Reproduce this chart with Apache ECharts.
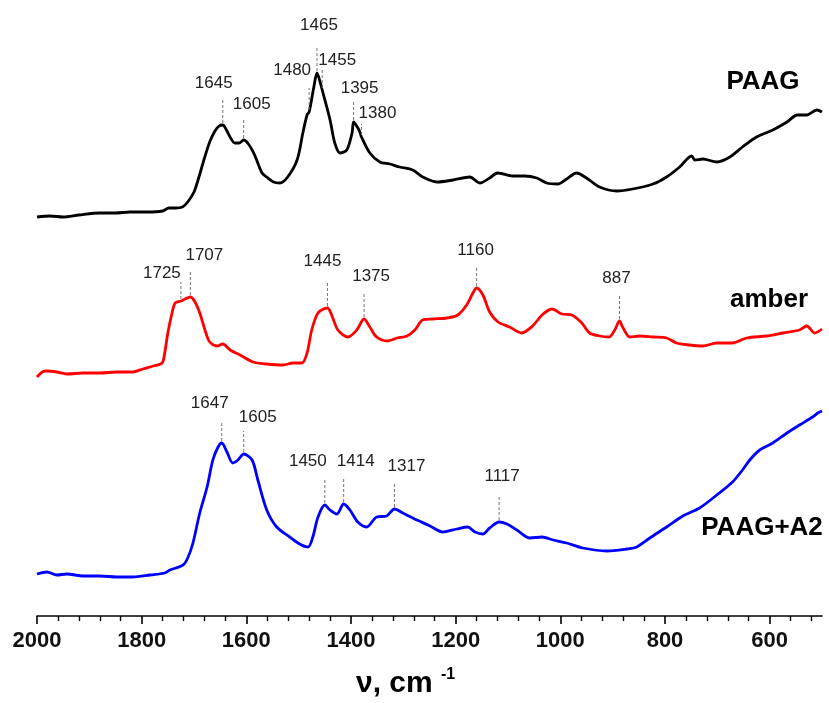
<!DOCTYPE html>
<html>
<head>
<meta charset="utf-8">
<script src="https://cdn.jsdelivr.net/npm/echarts@6.0.0/dist/echarts.min.js"></script>
<style>
  body { margin: 0; background: #fff; }
  #main { width: 829px; height: 703px; }
</style>
</head>
<body>
<div id="main"></div>
<script>
// wavenumbers (cm-1) and heights
var paagWn = [2000,1975,1950,1920,1880,1850,1822,1790,1760,1748,1735,1722,1712,1700,1690,1680,1670,1660,1652,1645,1638,1630,1622,1614,1605,1596,1585,1570,1561,1548,1536,1521,1503,1492,1484,1480,1471,1465,1459,1455,1440,1431,1421,1408,1398,1395,1388,1383,1380,1364,1345,1326,1307,1282,1263,1236,1205,1173,1154,1135,1120,1091,1068,1045,1026,1005,988,969,950,925,892,862,823,797,772,749,743,728,701,676,652,625,594,567,547,529,510,500];
var paagAbs = [399,400,399,401,403,403,404,404,405,408,408,409,414,424,440,458,474,485,490,491,486,478,473,473,476,472,462,443,439,434,433,439,456,483,501,504,529,543,534,526,496,473,463,466,483,494,489,484,479,463,454,452,449,446,439,434,436,439,433,438,443,440,440,438,433,432,437,443,438,429,425,427,432,439,449,460,456,457,454,459,469,479,486,494,501,501,506,504];

var amberWn = [2000,1990,1981,1962,1943,1912,1880,1847,1817,1798,1778,1761,1756,1750,1742,1736,1725,1717,1707,1698,1689,1679,1670,1656,1645,1631,1612,1587,1561,1530,1511,1494,1484,1475,1463,1445,1437,1425,1406,1389,1375,1364,1351,1330,1312,1293,1278,1263,1244,1217,1196,1179,1168,1160,1148,1135,1119,1097,1074,1053,1035,1016,997,978,959,944,925,907,896,887,881,867,848,823,797,778,753,728,701,671,644,606,575,543,529,514,500];
var amberAbs = [239,244,245,244,242,243,243,244,244,247,250,253,263,283,303,313,315,317,319,314,303,286,274,270,272,266,261,254,252,251,253,253,263,286,303,308,301,286,279,286,297,289,279,275,278,280,286,296,297,298,301,311,322,328,321,304,294,289,283,290,301,307,302,301,293,283,280,279,286,295,289,279,280,279,278,273,271,270,273,273,278,280,283,286,290,283,287];

var blendWn = [2000,1981,1962,1943,1912,1880,1847,1817,1784,1756,1746,1721,1712,1702,1689,1675,1664,1654,1647,1637,1626,1616,1605,1589,1578,1561,1542,1517,1498,1482,1473,1463,1450,1440,1427,1414,1402,1387,1370,1351,1332,1317,1301,1274,1249,1225,1198,1177,1163,1148,1135,1117,1102,1083,1058,1035,1014,988,957,911,873,854,829,797,766,734,701,671,652,638,619,594,567,543,518,508,500];
var blendAbs = [42,44,41,42,40,40,39,39,41,43,46,51,58,73,103,129,156,169,173,164,153,156,162,156,136,106,89,79,72,69,79,99,111,106,102,112,106,94,89,99,100,107,103,96,90,84,87,89,84,82,88,94,92,86,78,79,76,73,68,65,67,69,78,89,100,108,121,134,146,156,166,173,183,191,199,203,205];

// marked peaks
var paagPeaks = [1645, 1605, 1480, 1465, 1455, 1395, 1380];
var amberPeaks = [1725, 1707, 1445, 1375, 1160, 887];
var blendPeaks = [1647, 1605, 1450, 1414, 1317, 1117];

// axis tick labels
var tickValues = [2000, 1800, 1600, 1400, 1200, 1000, 800, 600];

// label layout: [dash length, text dx, text dy] in px
var paagTags = [[24,-9,16],[20,8,14],[22,-17,18],[25,2,21],[19,15,9],[18,6,14],[11,16,11]];
var amberTags = [[17,-19,9],[25,14,15],[24,-5,21],[23,7,18],[20,-1,16],[25,-3,16]];
var blendTags = [[20,-12,18],[21,14,14],[25,-17,17],[24,12,17],[24,12,17],[25,3,19]];

var minorTicks = [];
for (var t = 1960; t >= 520; t -= 40) {
  if (tickValues.indexOf(t) < 0) minorTicks.push(t);
}

function pairs(xs, ys) {
  return xs.map(function (x, i) { return [x, ys[i]]; });
}

function valueAt(xs, ys, x) {
  for (var i = 0; i < xs.length - 1; i++) {
    if (xs[i] >= x && x >= xs[i + 1]) {
      var k = (xs[i] - x) / (xs[i] - xs[i + 1]);
      return ys[i] + k * (ys[i + 1] - ys[i]);
    }
  }
  return ys[ys.length - 1];
}

function tagData(peaks, xs, ys, tags) {
  return peaks.map(function (p, i) {
    return [p, valueAt(xs, ys, p), tags[i][0], tags[i][1], tags[i][2]];
  });
}

var allTags = []
  .concat(tagData(paagPeaks, paagWn, paagAbs, paagTags))
  .concat(tagData(amberPeaks, amberWn, amberAbs, amberTags))
  .concat(tagData(blendPeaks, blendWn, blendAbs, blendTags));

var chart = echarts.init(document.getElementById('main'));

var font = '"Liberation Sans", Arial, sans-serif';

var option = {
  animation: false,
  backgroundColor: '#fff',
  grid: { left: 37, right: 7, top: 16, bottom: 87 },
  xAxis: [
    {
      type: 'value', min: 500, max: 2000, inverse: true, position: 'bottom',
      axisLine: { show: true, lineStyle: { color: '#000', width: 1.6 } },
      axisTick: { show: true, length: 8, customValues: tickValues, lineStyle: { color: '#000', width: 1.6 } },
      axisLabel: {
        customValues: tickValues, fontSize: 22, fontWeight: 'bold',
        fontFamily: font, color: '#111', margin: 14,
        formatter: function (v) { return String(v); }
      },
      splitLine: { show: false }
    },
    {
      type: 'value', min: 500, max: 2000, inverse: true, position: 'bottom',
      axisLine: { show: false },
      axisTick: { show: true, length: 5, customValues: minorTicks, lineStyle: { color: '#000', width: 1.4 } },
      axisLabel: { show: false },
      splitLine: { show: false }
    }
  ],
  yAxis: { type: 'value', min: 0, max: 600, show: false },
  series: [
    {
      name: 'PAAG', type: 'line', data: pairs(paagWn, paagAbs),
      showSymbol: false, smooth: 0.3,
      lineStyle: { color: '#000', width: 2.8 }
    },
    {
      name: 'amber', type: 'line', data: pairs(amberWn, amberAbs),
      showSymbol: false, smooth: 0.3,
      lineStyle: { color: '#ff0000', width: 2.8 }
    },
    {
      name: 'PAAG+A2', type: 'line', data: pairs(blendWn, blendAbs),
      showSymbol: false, smooth: 0.3,
      lineStyle: { color: '#0000ff', width: 2.8 }
    },
    {
      // dashed peak markers with their wavenumber
      type: 'custom', data: allTags, clip: false, z: 5,
      renderItem: function (params, api) {
        var p = api.coord([api.value(0), api.value(1)]);
        var len = api.value(2), dx = api.value(3), dy = api.value(4);
        var y0 = p[1] - 2, y1 = y0 - len;
        return {
          type: 'group',
          children: [
            {
              type: 'line',
              shape: { x1: p[0], y1: y0, x2: p[0], y2: y1 },
              style: { stroke: '#777', lineWidth: 1, lineDash: [3, 2] }
            },
            {
              type: 'text', x: p[0] + dx, y: y1 - dy,
              style: {
                text: String(api.value(0)), fill: '#222',
                font: '17px ' + font, textAlign: 'center', textVerticalAlign: 'middle'
              }
            }
          ]
        };
      }
    }
  ],
  graphic: [
    { type: 'text', x: 763, y: 82, style: { text: 'PAAG', font: 'bold 26px ' + font, fill: '#000', textAlign: 'center', textVerticalAlign: 'middle' } },
    { type: 'text', x: 769, y: 300, style: { text: 'amber', font: 'bold 26px ' + font, fill: '#000', textAlign: 'center', textVerticalAlign: 'middle' } },
    { type: 'text', x: 762, y: 528, style: { text: 'PAAG+A2', font: 'bold 26px ' + font, fill: '#000', textAlign: 'center', textVerticalAlign: 'middle' } },
    { type: 'text', x: 356, y: 684, style: { text: 'ν, cm', font: 'bold 30px ' + font, fill: '#000', textAlign: 'left', textVerticalAlign: 'middle' } },
    { type: 'text', x: 441, y: 675, style: { text: '-1', font: 'bold 16px ' + font, fill: '#000', textAlign: 'left', textVerticalAlign: 'middle' } }
  ]
};

chart.setOption(option);
</script>
</body>
</html>
